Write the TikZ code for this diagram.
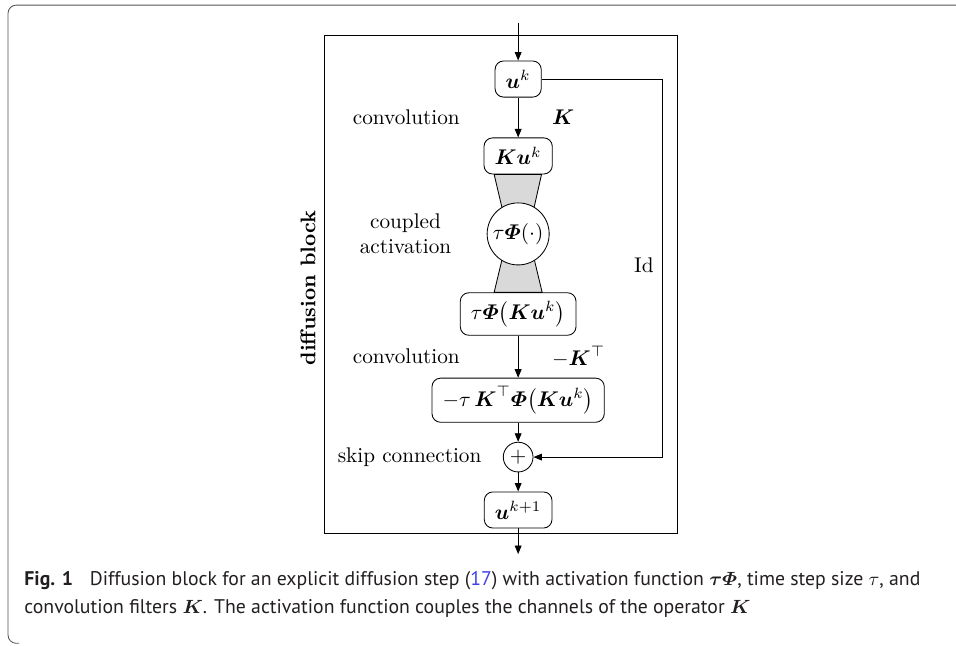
\documentclass[tikz,border=0pt]{standalone}
\usepackage{amsmath}
\usepackage{fontspec}
\newfontfamily\capfont{PT Sans}
\usetikzlibrary{positioning, arrows.meta, backgrounds}
\definecolor{capgray}{HTML}{231F20}
\definecolor{framegray}{HTML}{555555}
\definecolor{reflink}{HTML}{3F3FE8}
\definecolor{wedgegray}{HTML}{D9D9D9}

\begin{document}
\begin{tikzpicture}[
    x=1pt, y=1pt,
    blk/.style={draw, rounded corners=4pt, inner xsep=5pt, inner ysep=3pt, minimum height=17pt},
    op/.style={draw, circle, fill=white, inner sep=0pt},
    lbl/.style={inner sep=0pt},
    caption/.style={anchor=base west, inner sep=0pt, text=capgray, font=\capfont\fontsize{9.3}{13}\selectfont},
    arrow/.style={-{Triangle[length=4pt, width=3.2pt]}}
  ]
    \useasboundingbox (0,0) rectangle (450,-303.7);
    % page frame and block frame
    \draw[framegray, rounded corners=3.8pt] (450,-2.4) -- (3.8,-2.4) -- (3.8,-302.8) -- (9,-302.8);
    \draw (152.5,-16.5) rectangle (318.7,-250.9);
    \node[rotate=90, font=\bfseries] (dblk) at (145,-135.6) {diffusion block};

    \node[blk] (uk) at (243.9,-37.2) {$\boldsymbol{u}^k$};
    \node[blk, below=18.8pt of uk] (Kuk) {$\boldsymbol{K}\boldsymbol{u}^k$};
    \node[op, minimum size=29.2pt, below=13.2pt of Kuk] (act) {$\tau\boldsymbol{\varPhi}(\cdot)$};
    \node[blk, inner ysep=4pt, below=12.7pt of act] (actout) {$\tau\boldsymbol{\varPhi}\bigl(\boldsymbol{K}\boldsymbol{u}^k\bigr)$};
    \node[blk, inner ysep=4pt, below=19.8pt of actout] (back) {$-\tau\,\boldsymbol{K}^{\top}\boldsymbol{\varPhi}\bigl(\boldsymbol{K}\boldsymbol{u}^k\bigr)$};
    \node[op, minimum size=14pt, below=9pt of back] (add) {$+$};
    \node[blk, below=9pt of add] (ukk) {$\boldsymbol{u}^{k+1}$};
    \coordinate (in) at (243.9,-10.8);
    \coordinate (out) at (243.9,-260.8);
    \coordinate (idx) at (311.7,0);

    % gray wedges behind the activation
    \begin{scope}[on background layer]
      \filldraw[fill=wedgegray] ([xshift=-11.3pt]Kuk.south) -- ([xshift=11pt]Kuk.south) -- ([xshift=4.7pt]act.center) -- ([xshift=-4.7pt]act.center) -- cycle;
      \filldraw[fill=wedgegray] ([xshift=-4.7pt]act.center) -- ([xshift=4.7pt]act.center) -- ([xshift=11.3pt]actout.north) -- ([xshift=-11.3pt]actout.north) -- cycle;
    \end{scope}

    \node[lbl, left=16.5pt of act, align=center] (coupl) {coupled\\activation};
    \node[lbl, left=9.9pt of add] (skip) {skip connection};

    \draw[arrow] (in) -- (uk);
    \draw[arrow] (uk) -- node[lbl, left=27.3pt] (conv1) {convolution} node[lbl, right=15.8pt] (kop) {$\boldsymbol{K}$} (Kuk);
    \draw[arrow] (actout) -- node[lbl, left=27.3pt] (conv2) {convolution} node[lbl, right=15.8pt] (ktop) {$-\boldsymbol{K}^{\top}$} (back);
    \draw[arrow] (back) -- (add);
    \draw[arrow] (add) -- (ukk);
    \draw[arrow] (ukk) -- (out);
    \draw[arrow] (uk.east) -- (uk.east -| idx) |- (add.east);
    \node[lbl, anchor=east] (idlbl) at (307.9,-124.8) {Id};

    % caption
    \node[caption] (cap1) at (11.3,-275.6) {\textbf{Fig. 1}\hspace{0.85em}Diffusion block for an explicit diffusion step (\textcolor{reflink}{17}) with activation function $\boldsymbol{\tau\varPhi}$, time step size $\tau$, and};
    \node[caption] (cap2) at (11.3,-288.8) {convolution filters $\boldsymbol{K}$. The activation function couples the channels of the operator $\boldsymbol{K}$};
  \end{tikzpicture}
\end{document}
